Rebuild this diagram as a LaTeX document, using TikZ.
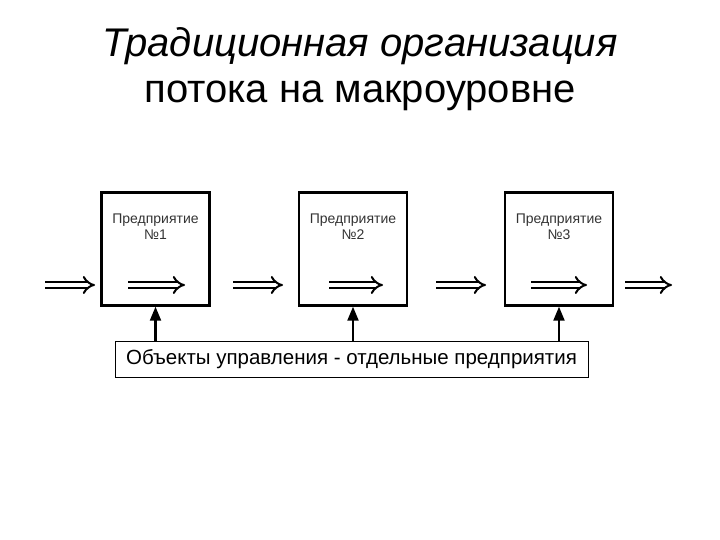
\documentclass[tikz,border=0pt]{standalone}
\usepackage{fontspec}
\setmainfont{Liberation Sans}
\usetikzlibrary{arrows.meta}
\begin{document}
\begin{tikzpicture}[x=1pt,y=-1pt,
  ent/.style={draw,line width=2.4pt,minimum width=108pt,minimum height=113pt,inner sep=0pt},
  flow/.style={double,double distance=4pt,line width=2pt,-{Implies[length=10pt,width=18pt]}},
  ctl/.style={line width=2.2pt,-{Triangle[length=14pt,width=11pt]}},
  lbl/.style={font=\fontsize{14}{16}\selectfont,text=black!80,align=center}]
\useasboundingbox (0,0) rectangle (720,540);
\node[font=\fontsize{40}{44}\selectfont\itshape] (t1) at (360,46) {Традиционная организация};
\node[font=\fontsize{40}{44}\selectfont] (t2) at (360,96) {потока на макроуровне};
\foreach \n/\x in {1/155.5,2/353,3/559}{
  \node[ent] (b\n) at (\x,249) {};
  \node[lbl] (l\n) at (\x,227) {Предприятие\\№\n};
}
\node[draw,line width=1pt,minimum width=473pt,minimum height=36pt,inner sep=0pt,font=\fontsize{20.5}{24}\selectfont] (ob) at (351.5,359) {Объекты управления - отдельные предприятия};
\foreach \a/\b in {45/95,128/185,233/283,329/383,436/486,531/587,625/672}{
  \coordinate (s\a) at (\a,285); \coordinate (e\a) at (\b,285);
  \draw[flow] (s\a) -- (e\a);
}
\foreach \n in {1,2,3}{
  \draw[ctl] (ob.north -| b\n) -- (b\n.south);
}
\end{tikzpicture}
\end{document}
